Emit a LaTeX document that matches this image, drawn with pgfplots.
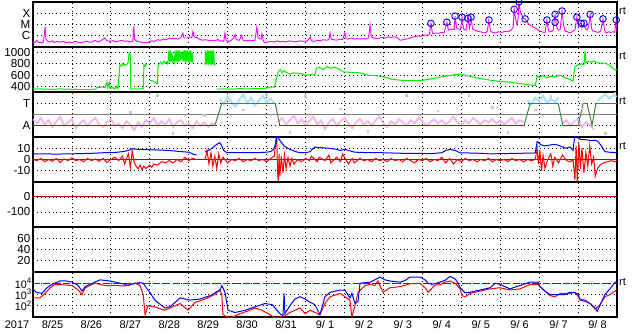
\documentclass[border=0pt]{standalone}
\usepackage{fontspec}
\setmainfont{Liberation Sans}
\usepackage{pgfplots}
\pgfplotsset{compat=1.18}
\definecolor{mag}{RGB}{255,0,255}
\definecolor{grn}{RGB}{0,240,0}
\definecolor{blu}{RGB}{0,0,255}
\definecolor{rd}{RGB}{255,0,0}
\definecolor{dkred}{RGB}{176,0,0}
\definecolor{pinkish}{RGB}{245,178,240}
\definecolor{lblue}{RGB}{165,225,250}
\definecolor{lgray}{RGB}{200,200,200}
\definecolor{lvltwo}{RGB}{128,128,128}
\definecolor{trans}{RGB}{64,128,64}
\definecolor{lvlthree}{RGB}{64,96,255}
\definecolor{lvlone}{RGB}{200,0,0}
\newcommand\lbl{\fontsize{11}{13}\selectfont}
\newcommand\ylbl{\fontsize{11.6}{13}\selectfont}
\newcommand\pw[1]{10\raisebox{0.42em}{\fontsize{8}{9}\selectfont #1}}
\pgfplotsset{panel/.style={
  scale only axis, width=584pt, height=45pt, xmin=0, xmax=15,
  anchor=north west,
  xtick={1,2,...,14}, xticklabels={},
  grid=major,
  major grid style={black, line width=0.8pt, dash pattern=on 0.8pt off 3.1pt},
  major tick length=0pt,
  axis line style={black, line width=1.2pt},
  xticklabel style={font=\lbl},
  yticklabel style={font=\ylbl, inner sep=2.5pt},
  unbounded coords=jump,
  every axis plot/.append style={line width=1pt},
}}
\begin{document}
\begin{tikzpicture}
\path[use as bounding box] (-33pt,2pt) rectangle (600pt,-332pt);

% ---------- Panel 1: X-ray flux (log10 W/m2)
\begin{axis}[panel, name=p1, at={(0pt,0pt)}, ymin=-7, ymax=-3,
  ytick={-6,-5,-4}, yticklabels={C,M,X}, clip mode=individual]
\addplot[mag, line width=0.9pt] coordinates {
(0,-6.62)(0.05,-6.6)(0.10,-6.40)(0.14,-6.58)(0.2,-6.6)(0.27,-6.55)(0.31,-5.2)(0.33,-6.3)(0.38,-6.5)
(0.45,-6.55)(0.5,-6.45)(0.55,-6.6)(0.62,-6.5)(0.7,-6.58)(0.78,-6.5)(0.85,-6.6)(0.92,-6.55)(1.0,-6.62)
(1.08,-6.5)(1.15,-6.58)(1.22,-6.6)(1.3,-6.55)(1.38,-6.48)(1.45,-6.58)(1.52,-6.55)(1.6,-6.4)(1.65,-6.55)
(1.72,-6.5)(1.8,-6.3)(1.85,-6.2)(1.9,-6.45)(1.98,-6.5)(2.05,-6.42)(2.12,-6.55)(2.2,-6.48)(2.28,-6.4)
(2.35,-6.5)(2.42,-6.45)(2.5,-6.55)(2.56,-6.5)(2.59,-5.13)(2.61,-6.35)(2.68,-6.5)(2.75,-6.55)(2.83,-6.6)
(2.9,-6.62)(2.96,-6.58)(3.0,-6.5)(3.05,-6.45)(3.12,-6.5)(3.2,-6.35)(3.28,-6.4)(3.35,-6.3)(3.42,-6.35)
(3.5,-6.2)(3.58,-6.25)(3.65,-6.2)(3.72,-6.3)(3.8,-6.15)(3.85,-5.76)(3.88,-6.2)(3.95,-6.2)(4.02,-6.1)
(4.08,-6.15)(4.11,-5.6)(4.14,-6.1)(4.2,-6.15)(4.28,-6.3)(4.35,-6.4)(4.42,-6.35)(4.5,-6.4)(4.58,-6.45)
(4.65,-6.42)(4.72,-6.4)(4.75,-6.3)(4.78,-6.45)(4.85,-6.45)(4.9,-6.5)(4.93,-5.76)(4.96,-6.4)(5.02,-6.5)
(5.08,-6.45)(5.15,-6.2)(5.19,-5.9)(5.22,-6.35)(5.3,-6.4)(5.36,-5.95)(5.4,-6.4)(5.47,-6.45)(5.55,-6.4)
(5.62,-6.45)(5.7,-6.4)(5.75,-5.2)(5.78,-6.2)(5.86,-6.3)(5.88,-5.8)(5.92,-6.5)(5.96,-6.6)(6.05,-6.55)
(6.12,-6.5)(6.2,-6.55)(6.28,-6.45)(6.35,-6.55)(6.42,-6.5)(6.5,-6.55)(6.58,-6.45)(6.65,-6.5)(6.72,-6.55)
(6.8,-6.5)(6.88,-6.45)(6.95,-6.5)(7.05,-6.45)(7.12,-6.1)(7.15,-6.45)(7.22,-6.5)(7.3,-6.4)(7.38,-6.45)
(7.45,-6.35)(7.52,-6.4)(7.6,-6.35)(7.63,-5.74)(7.66,-6.3)(7.72,-6.35)(7.8,-6.4)(7.88,-6.3)(7.95,-6.35)
(8.01,-5.74)(8.04,-6.25)(8.1,-6.3)(8.18,-6.2)(8.25,-6.3)(8.32,-6.25)(8.4,-6.3)(8.48,-6.25)(8.55,-6.3)
(8.62,-6.2)(8.66,-5.05)(8.69,-6.1)(8.75,-6.2)(8.82,-6.25)(8.9,-6.2)(8.98,-6.15)(9.05,-6.2)(9.12,-6.1)
(9.2,-6.15)(9.28,-6.1)(9.35,-6.15)(9.43,-6.4)(9.5,-6.35)(9.58,-6.3)(9.65,-6.25)(9.72,-6.15)(9.8,-6.1)
(9.88,-6.0)(9.95,-6.05)(10.02,-5.95)(10.1,-5.95)(10.18,-5.9)(10.22,-4.9)(10.26,-5.8)(10.33,-5.75)
(10.4,-5.8)(10.48,-5.7)(10.56,-5.75)(10.63,-4.8)(10.67,-5.5)(10.75,-5.4)(10.82,-5.45)(10.84,-4.25)
(10.88,-5.3)(10.92,-5.4)(10.98,-5.45)(11.02,-4.35)(11.06,-5.4)(11.12,-5.5)(11.17,-4.45)(11.21,-5.3)
(11.25,-4.35)(11.29,-5.4)(11.35,-5.5)(11.42,-5.6)(11.48,-5.65)(11.55,-5.7)(11.62,-5.75)(11.67,-5.6)
(11.71,-4.6)(11.75,-5.6)(11.8,-5.7)(11.88,-5.75)(11.95,-5.65)(12.05,-5.7)(12.12,-5.6)(12.2,-5.65)
(12.28,-5.5)(12.33,-5.3)(12.36,-3.65)(12.40,-4.6)(12.43,-5.0)(12.46,-4.5)(12.48,-3.0)(12.52,-3.9)
(12.56,-4.2)(12.6,-4.45)(12.64,-4.5)(12.7,-4.85)(12.77,-5.05)(12.84,-5.2)(12.9,-5.3)(12.96,-5.45)
(13.02,-5.6)(13.08,-5.65)(13.15,-5.75)(13.2,-4.6)(13.24,-5.55)(13.3,-5.65)(13.36,-5.5)(13.41,-4.1)
(13.45,-5.2)(13.49,-5.5)(13.54,-5.45)(13.59,-3.8)(13.63,-5.1)(13.67,-5.6)(13.73,-5.65)(13.8,-5.75)
(13.86,-5.6)(13.92,-5.5)(13.97,-4.35)(14.01,-5.2)(14.05,-4.9)(14.08,-4.9)(14.1,-5.3)(14.15,-4.9)
(14.18,-5.3)(14.23,-5.5)(14.27,-5.2)(14.31,-4.1)(14.35,-5.4)(14.4,-5.6)(14.46,-5.65)(14.51,-5.7)
(14.58,-5.6)(14.64,-4.5)(14.68,-5.5)(14.72,-5.75)(14.78,-5.65)(14.84,-5.7)(14.9,-5.65)(14.94,-5.7)
(14.98,-4.6)(15.0,-5.6)};
\addplot[only marks, mark=o, mark size=3.3pt, blu, line width=0.9pt] coordinates {
(10.22,-4.9)(10.63,-4.8)(10.84,-4.25)(11.02,-4.35)(11.17,-4.45)(11.25,-4.35)(11.71,-4.6)
(12.36,-3.65)(12.48,-3.0)(12.64,-4.5)(13.20,-4.6)(13.41,-4.1)(13.41,-4.8)(13.59,-3.8)
(13.97,-4.35)(14.08,-4.9)(14.15,-4.9)(14.31,-4.1)(14.64,-4.5)(14.98,-4.6)};
\end{axis}

% ---------- Panel 2: solar wind speed
\begin{axis}[panel, name=p2, at={(0pt,-45pt)}, ymin=300, ymax=1100,
  ytick={400,600,800,1000}, yticklabels={400,600,800,1000}]
\addplot[grn] coordinates {
(0,355)(0.1,350)(0.2,358)(0.3,348)(0.4,352)(0.5,345)(0.6,350)(0.7,356)(0.8,347)(0.9,352)(1.0,345)
(1.1,350)(1.2,342)(1.3,348)(1.4,340)(1.5,345)(1.6,350)(1.65,385)(1.7,380)(1.8,390)(1.85,375)(1.9,480)
(1.92,370)(1.96,470)(1.98,360)(2.05,380)(2.1,350)(2.15,400)(2.18,360)(2.2,510)(2.23,780)(2.27,760)
(2.3,800)(2.33,770)(2.36,790)(2.4,780)(2.44,820)(2.47,990)(2.5,960)(2.51,350)(2.6,355)(2.7,350)
(2.8,360)(2.83,355)(2.85,780)(2.88,760)(2.9,800)(2.93,790)(2.94,nan)
(3.0,510)(3.05,500)(3.1,490)(3.15,470)(3.18,450)(3.20,450)(3.21,750)(3.24,800)(3.28,830)(3.32,790)
(3.36,850)(3.40,810)(3.44,840)(3.46,800)
(3.47,820)(3.49,1040)(3.51,830)(3.53,1040)(3.55,840)(3.57,1000)(3.59,850)(3.61,900)(3.63,830)
(3.65,1040)(3.67,820)(3.69,1040)(3.71,830)(3.73,1040)(3.75,840)(3.77,1040)(3.79,900)(3.81,960)
(3.83,880)(3.85,1040)(3.87,850)(3.89,1040)(3.91,820)(3.93,1040)(3.95,840)(3.97,1040)(3.99,830)
(4.01,1040)(4.03,820)(4.05,1040)(4.07,830)(4.09,1000)(4.11,820)(4.12,nan)
(4.42,780)(4.44,1040)(4.46,790)(4.48,1040)(4.50,780)(4.52,1040)(4.54,790)(4.56,1040)(4.58,780)
(4.60,1040)(4.62,790)(4.64,1040)(4.66,780)(4.68,800)(4.70,nan)
(4.72,350)(4.9,355)(5.1,350)(5.3,360)(5.5,355)(5.7,362)(5.9,358)(6.0,370)(6.1,390)(6.2,385)
(6.27,585)(6.3,660)(6.35,700)(6.4,640)(6.45,680)(6.5,650)(6.6,620)(6.7,640)(6.86,630)(6.99,600)
(7.12,610)(7.24,600)(7.28,720)(7.35,740)(7.45,700)(7.55,750)(7.65,720)(7.75,740)(7.85,710)(7.89,700)
(7.95,660)(8.14,650)(8.4,640)(8.6,600)(8.8,590)(9.0,570)(9.2,530)(9.43,510)(9.7,500)(9.94,500)
(10.2,530)(10.5,570)(10.75,600)(10.97,620)(11.2,580)(11.48,540)(11.74,510)(12.0,490)(12.3,470)
(12.6,440)(12.84,420)(12.9,415)(12.95,585)(13.0,560)(13.1,590)(13.2,550)(13.3,580)(13.41,570)
(13.54,600)(13.65,560)(13.8,520)(13.87,490)(13.92,750)(14.0,780)(14.1,800)(14.15,780)(14.18,1030)
(14.2,820)(14.25,840)(14.31,830)(14.4,850)(14.5,820)(14.6,810)(14.69,815)(14.8,780)(14.9,720)
(14.95,690)(15.0,700)};
\end{axis}

% ---------- Panel 3: A/T
\begin{axis}[panel, name=p3, at={(0pt,-90pt)}, ymin=0, ymax=4,
  ytick={1,3}, yticklabels={A,T}]
\addplot[lgray, only marks, mark=square*, mark size=0.8pt] coordinates {
(2.0,3.3)(2.5,2.2)(3.2,3.7)(3.6,0.3)(4.4,1.9)(5.4,2.4)(6.0,3.8)(6.6,0.4)(7.0,3.6)(7.9,2.5)
(8.6,0.5)(9.6,3.7)(10.4,2.3)(11.2,3.7)(11.8,2.6)(12.2,0.4)(12.9,2.4)(13.3,3.6)(14.1,2.5)(14.7,0.3)(14.95,3.9)};
\addplot[pinkish, line width=1.8pt] coordinates {
(0,1.6)(0.1,1.2)(0.2,1.7)(0.3,1.1)(0.4,1.5)(0.5,0.9)(0.6,1.4)(0.7,1.8)(0.8,1.0)(0.9,1.3)(1.0,1.6)
(1.1,0.8)(1.2,1.2)(1.3,1.5)(1.4,1.0)(1.5,1.4)(1.6,1.7)(1.7,1.1)(1.8,0.9)(1.9,1.3)(2.0,1.6)(2.1,1.0)
(2.2,1.2)(2.3,0.8)(2.4,1.4)(2.5,1.1)(2.6,0.6)(2.7,1.3)(2.8,0.9)(2.9,1.5)(3.0,1.2)(3.1,1.7)(3.2,1.0)
(3.3,1.4)(3.4,1.1)(3.5,1.6)(3.6,0.9)(3.7,1.3)(3.8,1.5)(3.9,1.0)(4.0,1.2)(4.1,0.8)(4.2,1.4)(4.3,1.0)
(4.4,1.3)(4.5,0.9)(4.6,1.2)(4.7,1.0)(4.75,nan)
(6.3,1.3)(6.4,1.7)(6.5,1.1)(6.6,1.5)(6.7,1.9)(6.8,1.2)(6.9,1.6)(7.0,1.0)(7.1,1.4)(7.2,1.8)(7.3,1.1)
(7.4,1.5)(7.5,0.7)(7.6,1.3)(7.7,1.6)(7.8,1.0)(7.9,1.4)(8.0,1.7)(8.1,1.2)(8.2,0.8)(8.3,1.3)(8.4,1.6)
(8.5,1.1)(8.6,1.4)(8.7,1.0)(8.8,1.5)(8.9,1.8)(9.0,1.2)(9.1,0.9)(9.2,1.4)(9.3,1.1)(9.4,1.6)(9.5,1.3)
(9.6,1.0)(9.7,1.5)(9.8,1.2)(9.9,1.7)(10.0,1.4)(10.1,1.0)(10.2,1.3)(10.3,1.6)(10.4,1.2)(10.5,1.5)
(10.6,1.1)(10.7,1.4)(10.8,1.8)(10.9,1.3)(11.0,1.0)(11.1,1.5)(11.2,1.2)(11.3,1.7)(11.4,1.4)(11.5,1.1)
(11.6,1.5)(11.7,1.3)(11.8,1.6)(11.9,1.2)(12.0,1.5)(12.1,1.1)(12.2,1.4)(12.3,1.7)(12.4,1.2)(12.5,1.5)
(12.6,1.3)(12.65,nan)
(13.6,1.2)(13.7,1.5)(13.8,1.0)(13.9,1.4)(14.0,1.6)(14.1,0.9)(14.2,1.3)(14.3,1.1)(14.4,0.7)};
\addplot[lblue, line width=1.8pt] coordinates {
(4.8,3.4)(4.9,2.9)(5.0,3.6)(5.1,3.1)(5.2,2.7)(5.3,3.3)(5.4,3.8)(5.5,3.0)(5.6,3.5)(5.7,2.8)(5.8,3.2)
(5.9,3.7)(6.0,3.1)(6.1,3.4)(6.2,3.0)(6.25,nan)
(12.7,3.3)(12.8,2.9)(12.9,3.5)(13.0,3.2)(13.1,3.7)(13.2,3.0)(13.3,3.4)(13.4,3.1)(13.5,3.5)(13.55,nan)
(14.5,3.2)(14.6,3.5)(14.7,3.8)(14.8,3.4)(14.9,3.7)(15,3.6)};
\addplot[lvltwo] coordinates {(0,2)(15,2)};
\addplot[lvlone] coordinates {(0,1)(4.67,1)(4.68,nan)(6.34,1)(12.61,1)(12.62,nan)(13.61,1)(14.0,1)};
\addplot[lvlthree] coordinates {(4.85,3)(6.22,3)(6.23,nan)(12.77,3)(13.49,3)(13.50,nan)(14.13,3)(14.23,3)(14.24,nan)(14.46,3)(15,3)};
\addplot[trans] coordinates {(4.67,1)(4.85,3)(4.86,nan)(6.22,3)(6.34,1)(6.35,nan)(12.61,1)(12.77,3)(12.78,nan)
(13.49,3)(13.61,1)(13.62,nan)(14.0,1)(14.13,3)(14.14,nan)(14.23,3)(14.36,1.05)(14.46,3)};
\end{axis}

% ---------- Panel 4: IMF Bt / Bz
\begin{axis}[panel, name=p4, at={(0pt,-135pt)}, ymin=-20, ymax=20,
  ytick={-10,0,10}, yticklabels={-10,0,10}]
\addplot[dkred] coordinates {(0,0)(15,0)};
\addplot[rd] coordinates {
(0,0)(0.1,-1)(0.2,1)(0.3,-2)(0.4,0)(0.5,-1.5)(0.6,1)(0.7,-2.5)(0.8,0.5)(0.9,-1)(1.0,1.5)(1.1,-1)
(1.2,0)(1.3,-2)(1.4,1)(1.5,-1)(1.6,0.5)(1.7,-1.5)(1.8,1)(1.9,-2.5)(2.0,0)(2.1,2)(2.2,-1)(2.3,3)
(2.35,-4)(2.45,5)(2.5,-7)(2.55,8)(2.6,-3)(2.65,-6)(2.7,-8)(2.75,-5)(2.8,-9)(2.85,-6)(2.9,-8)(3.0,-5)
(3.05,-7)(3.1,-4)(3.2,-5)(3.3,-2)(3.4,-3)(3.5,-1)(3.6,-3)(3.7,0)(3.8,-2)(3.9,2)(4.0,-1)(4.1,1)
(4.2,0)(4.21,nan)
(4.42,0)(4.47,8)(4.52,-4)(4.57,6)(4.62,-6)(4.67,3)(4.72,-8)(4.77,5)(4.82,-3)(4.88,2)(4.95,-1)(5.0,-3)
(5.1,0)(5.2,-1)(5.3,1)(5.4,-2)(5.5,0)(5.6,-1)(5.7,1)(5.8,-1)(5.9,0)(6.0,-2)(6.1,1)(6.2,3)(6.24,18)
(6.26,22)(6.28,-10)(6.3,-19)(6.32,5)(6.34,-15)(6.38,3)(6.42,-12)(6.46,4)(6.5,-8)(6.55,2)(6.6,-6)
(6.65,1)(6.7,-4)(6.8,0)(6.9,-2)(7.0,1)(7.1,-1)(7.15,3)(7.3,-2)(7.35,2)(7.5,-1)(7.6,4)(7.65,-3)(7.8,2)
(7.9,-2)(7.95,5)(8.1,-4)(8.2,1)(8.25,-3)(8.4,1)(8.5,-1)(8.6,0)(8.7,-2)(8.8,1)(8.9,-1)(9.0,0)(9.1,-2)
(9.2,1)(9.3,-1)(9.4,0)(9.5,-2)(9.6,1)(9.7,-1)(9.8,-3)(9.9,0)(10.0,-1)(10.1,1)(10.2,-2)(10.3,0)
(10.4,-1)(10.5,2)(10.6,-3)(10.7,1)(10.8,-4)(10.9,0)(11.0,-2)(11.1,1)(11.2,-1)(11.3,0)(11.4,-2)
(11.5,0)(11.6,-1)(11.7,1)(11.8,-2)(11.9,0)(12.0,-1)(12.1,0)(12.2,-2)(12.3,1)(12.4,-1)(12.5,0)
(12.6,-2)(12.7,0)(12.8,-1)(12.9,0)(12.95,10)(12.98,-4)(13.02,8)(13.06,-10)(13.1,4)(13.15,-8)
(13.2,-2)(13.3,5)(13.35,-6)(13.4,2)(13.5,-3)(13.6,4)(13.7,-1)(13.8,-2)(13.87,0)(13.92,-18)(13.95,12)
(13.98,-20)(14.02,15)(14.06,-8)(14.1,10)(14.15,-12)(14.2,6)(14.25,-6)(14.3,12)(14.35,-4)(14.4,2)
(14.44,-15)(14.5,-8)(14.56,-5)(14.65,-3)(14.75,-2)(14.85,-1)(14.95,-2)(15,-1)};
\addplot[blu] coordinates {
(0,5)(0.3,5)(0.6,4.8)(0.9,5)(1.2,5.2)(1.5,5.5)(1.8,6)(2.1,6.2)(2.3,7)(2.45,8)(2.55,9.5)(2.7,9)
(2.9,8.8)(3.1,8.5)(3.3,8.4)(3.5,8)(3.65,7.5)(3.8,7)(4.0,6.5)(4.1,5)(4.2,4)(4.21,nan)
(4.42,7)(4.5,8)(4.6,10)(4.7,13)(4.8,15)(4.85,12)(4.9,8)(4.98,6)(5.2,6)(5.5,6)(5.8,6.2)(6.0,6.5)
(6.1,7)(6.18,9)(6.24,15)(6.27,22)(6.3,19)(6.34,17)(6.45,12)(6.6,9)(6.75,7)(6.86,6)(7.0,6)(7.12,7)
(7.2,10)(7.24,11)(7.4,10.5)(7.6,10)(7.8,9)(7.89,8)(8.01,9)(8.1,8)(8.27,6.5)(8.5,6.2)(9.0,6)(9.5,5.5)
(9.94,5.5)(10.2,5.2)(10.5,6)(10.6,8)(10.71,9)(10.85,8)(10.97,6)(11.2,5.8)(11.5,5.5)(11.74,5)
(12.0,5.2)(12.5,5.5)(12.9,5.8)(12.95,16)(13.05,13)(13.15,12)(13.3,13)(13.41,13.5)(13.55,12)
(13.67,10)(13.8,11)(13.87,8)(13.92,22)(13.97,22)(14.05,18)(14.2,17.5)(14.31,17)(14.45,17)
(14.51,16)(14.6,12)(14.69,7)(14.8,6.5)(15,6)};
\end{axis}

% ---------- Panel 5: (no data)
\begin{axis}[panel, name=p5, at={(0pt,-180pt)}, ymin=-200, ymax=100,
  ytick={-100,0}, yticklabels={-100,0}]
\addplot[dkred] coordinates {(0,0)(15,0)};
\end{axis}

% ---------- Panel 6: (no data)
\begin{axis}[panel, name=p6, at={(0pt,-225pt)}, ymin=0, ymax=80,
  ytick={20,40,60}, yticklabels={20,40,60}]
\addplot[draw=none] coordinates {(0,0)(15,0)};
\end{axis}

% ---------- Panel 7: electron / proton flux (log10)
\begin{axis}[panel, name=p7, at={(0pt,-270pt)}, ymin=1, ymax=5,
  ytick={2,3,4}, yticklabels={\pw{2},\pw{3},\pw{4}},
  yticklabel style={font=\fontsize{10.8}{11}\selectfont, inner sep=1.5pt},
  extra x ticks={0.5,1.5,...,14.5},
  extra x tick labels={8/25,8/26,8/27,8/28,8/29,8/30,8/31,9/ 1,9/ 2,9/ 3,9/ 4,9/ 5,9/ 6,9/ 7,9/ 8},
  extra x tick style={grid=none, major tick length=0pt}]
\addplot[dkred, dash pattern=on 7pt off 3pt] coordinates {(0,4)(15,4)};
\addplot[rd] coordinates {
(0,2.7)(0.18,2.7)(0.31,3.1)(0.44,3.6)(0.565,3.9)(0.82,3.85)(1.0,3.8)(1.16,3.4)(1.26,3.0)(1.34,3.6)
(1.59,4.0)(1.85,3.8)(2.11,3.8)(2.36,3.75)(2.62,4.0)(2.75,3.8)(2.83,3.0)(2.88,1.2)(2.95,2.0)(3.13,1.9)
(3.39,1.6)(3.52,1.8)(3.78,2.2)(3.98,1.6)(4.16,2.3)(4.42,2.6)(4.67,3.0)(4.80,3.4)(4.85,3.0)(4.88,1.2)
(5.06,0.9)(5.32,1.3)(5.57,1.6)(5.70,1.8)(5.88,1.6)(6.09,1.2)(6.22,0.9)(6.47,1.1)(6.60,1.4)(6.73,1.6)
(6.86,1.8)(6.99,1.3)(7.12,1.6)(7.37,1.2)(7.50,2.2)(7.63,2.8)(7.89,3.1)(8.14,2.5)(8.19,1.0)(8.27,2.0)
(8.35,3.2)(8.53,3.8)(8.66,3.9)(8.78,3.8)(8.86,4.2)(8.91,3.8)(8.99,3.2)(9.17,3.6)(9.43,3.7)(9.68,3.95)
(9.94,4.0)(10.07,3.6)(10.15,3.2)(10.33,3.85)(10.45,3.85)(10.58,4.1)(10.71,4.2)(10.84,4.0)(10.97,3.5)
(11.02,2.9)(11.10,2.8)(11.23,3.1)(11.48,3.3)(11.74,3.5)(12.0,3.6)(12.25,3.4)(12.51,3.5)(12.77,3.9)
(12.97,3.9)(13.15,3.3)(13.28,2.9)(13.41,2.8)(13.54,3.1)(13.79,3.1)(13.92,3.2)(14.05,2.6)(14.18,2.5)
(14.31,2.2)(14.44,1.7)(14.56,2.1)(14.69,2.8)(14.82,3.0)(14.95,3.3)(15.0,3.5)};
\addplot[blu] coordinates {
(0,3.5)(0.08,3.2)(0.23,3.1)(0.36,3.6)(0.49,3.9)(0.69,4.2)(0.85,4.2)(1.0,4.1)(1.16,3.8)(1.26,3.3)
(1.34,3.7)(1.46,3.9)(1.72,4.3)(1.98,4.2)(2.18,4.05)(2.36,3.9)(2.44,3.8)(2.62,4.0)(2.75,4.05)(2.83,4.0)
(2.93,3.5)(3.0,3.2)(3.13,2.5)(3.39,1.8)(3.52,1.9)(3.78,2.7)(4.03,2.5)(4.29,2.6)(4.55,2.9)(4.80,3.4)
(4.85,3.8)(4.93,3.2)(5.01,1.6)(5.19,1.4)(5.45,1.6)(5.70,1.9)(5.96,2.2)(6.14,2.1)(6.34,1.3)(6.42,1.1)
(6.45,3.1)(6.47,1.3)(6.60,2.0)(6.73,2.6)(6.86,2.8)(6.99,2.6)(7.12,2.3)(7.24,2.1)(7.37,1.2)(7.50,2.8)
(7.63,3.2)(7.89,3.4)(8.01,3.4)(8.14,2.7)(8.19,3.1)(8.27,2.2)(8.35,2.4)(8.40,4.0)(8.66,4.1)(8.78,4.3)
(8.91,4.55)(9.04,4.3)(9.17,4.2)(9.43,4.1)(9.56,4.25)(9.68,4.55)(9.94,4.55)(10.07,4.3)(10.15,4.0)
(10.25,3.9)(10.45,4.1)(10.58,4.25)(10.71,4.6)(10.84,4.4)(10.92,4.0)(10.97,3.6)(11.10,3.15)(11.23,3.2)
(11.48,3.4)(11.74,3.6)(11.87,4.0)(12.0,3.9)(12.12,3.7)(12.25,3.5)(12.51,3.8)(12.77,4.1)(12.97,4.1)
(13.02,3.7)(13.15,3.3)(13.28,3.0)(13.54,3.0)(13.67,3.0)(13.79,3.2)(13.92,3.2)(14.0,3.0)(14.05,2.5)
(14.18,2.4)(14.31,2.2)(14.44,1.8)(14.49,1.5)(14.56,2.0)(14.69,3.0)(14.82,3.5)(14.95,4.1)(15.0,4.1)};
\end{axis}

\node[anchor=north east, font=\lbl, inner sep=3.5pt] at (p7.south west) {2017};
\foreach \p/\s in {p1/-9pt,p2/-9pt,p3/-9pt,p4/-9pt,p7/-10pt}
  \node[anchor=west, font=\lbl, inner sep=2pt, yshift=\s] at (\p.north east) {rt};
\end{tikzpicture}
\end{document}
